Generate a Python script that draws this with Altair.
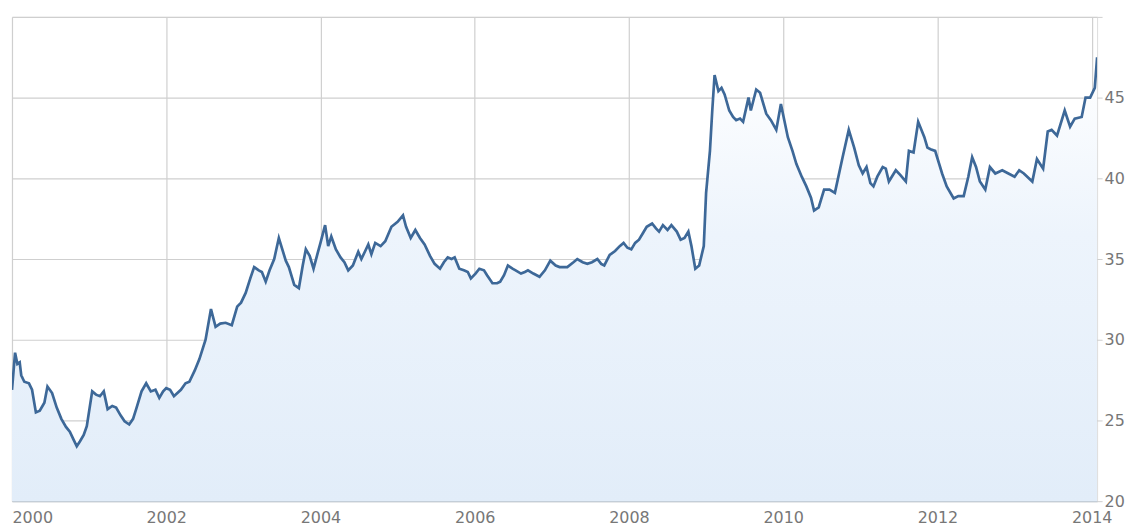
import altair as alt
import pandas as pd

years = [
    2000.00, 2000.04, 2000.07, 2000.10, 2000.12, 2000.16, 2000.22, 2000.26, 2000.31, 2000.36,
    2000.42, 2000.46, 2000.52, 2000.58, 2000.64, 2000.70, 2000.75, 2000.80, 2000.84, 2000.88,
    2000.93, 2000.97, 2001.04, 2001.09, 2001.14, 2001.19, 2001.24, 2001.30, 2001.35, 2001.41,
    2001.46, 2001.52, 2001.57, 2001.61, 2001.68, 2001.74, 2001.80, 2001.86, 2001.91, 2001.96,
    2002.00, 2002.05, 2002.10, 2002.19, 2002.25, 2002.30, 2002.37, 2002.43, 2002.51, 2002.58,
    2002.64, 2002.70, 2002.77, 2002.85, 2002.92, 2002.97, 2003.03, 2003.09, 2003.14, 2003.20,
    2003.24, 2003.29, 2003.34, 2003.40, 2003.46, 2003.55, 2003.59, 2003.66, 2003.72, 2003.77,
    2003.81, 2003.86, 2003.91, 2003.96, 2004.00, 2004.06, 2004.10, 2004.14, 2004.20, 2004.26,
    2004.31, 2004.36, 2004.42, 2004.49, 2004.53, 2004.58, 2004.62, 2004.66, 2004.71, 2004.78,
    2004.84, 2004.92, 2005.00, 2005.07, 2005.11, 2005.17, 2005.23, 2005.29, 2005.35, 2005.42,
    2005.48, 2005.55, 2005.60, 2005.65, 2005.70, 2005.74, 2005.80, 2005.86, 2005.91, 2005.95,
    2006.01, 2006.06, 2006.12, 2006.16, 2006.23, 2006.29, 2006.33, 2006.38, 2006.43, 2006.49,
    2006.53, 2006.60, 2006.65, 2006.69, 2006.76, 2006.84, 2006.91, 2006.98, 2007.05, 2007.10,
    2007.20, 2007.28, 2007.33, 2007.40, 2007.46, 2007.52, 2007.59, 2007.64, 2007.68, 2007.75,
    2007.82, 2007.88, 2007.93, 2007.98, 2008.03, 2008.08, 2008.13, 2008.18, 2008.23, 2008.30,
    2008.35, 2008.39, 2008.44, 2008.50, 2008.55, 2008.62, 2008.67, 2008.72, 2008.77, 2008.81,
    2008.86, 2008.91, 2008.97, 2009.00, 2009.05, 2009.08, 2009.11, 2009.16, 2009.20, 2009.24,
    2009.30, 2009.35, 2009.39, 2009.44, 2009.48, 2009.55, 2009.58, 2009.65, 2009.70, 2009.78,
    2009.84, 2009.91, 2009.97, 2010.06, 2010.12, 2010.17, 2010.24, 2010.30, 2010.36, 2010.40,
    2010.46, 2010.53, 2010.60, 2010.67, 2010.77, 2010.85, 2010.92, 2010.98, 2011.03, 2011.08,
    2011.13, 2011.17, 2011.22, 2011.29, 2011.33, 2011.37, 2011.46, 2011.52, 2011.59, 2011.63,
    2011.69, 2011.75, 2011.83, 2011.87, 2011.91, 2011.97, 2012.06, 2012.12, 2012.21, 2012.27,
    2012.34, 2012.40, 2012.45, 2012.50, 2012.55, 2012.62, 2012.68, 2012.75, 2012.84, 2012.92,
    2013.00, 2013.06, 2013.12, 2013.23, 2013.29, 2013.37, 2013.43, 2013.48, 2013.55, 2013.65,
    2013.72, 2013.78, 2013.87, 2013.92, 2013.98, 2014.04, 2014.07,
]

values = [
    26.9, 29.2, 28.5, 28.6, 27.8, 27.4, 27.3, 26.9, 25.5, 25.6,
    26.1, 27.1, 26.7, 25.8, 25.1, 24.6, 24.3, 23.8, 23.4, 23.7,
    24.1, 24.65, 26.8, 26.6, 26.5, 26.8, 25.7, 25.9, 25.8, 25.3,
    24.95, 24.75, 25.1, 25.7, 26.8, 27.3, 26.8, 26.9, 26.4, 26.8,
    27.0, 26.9, 26.5, 26.9, 27.3, 27.4, 28.1, 28.8, 30.0, 31.9,
    30.8, 31.0, 31.05, 30.9, 32.05, 32.3, 32.9, 33.8, 34.5, 34.3,
    34.2, 33.6, 34.3, 35.0, 36.3, 34.9, 34.5, 33.4, 33.2, 34.6,
    35.6, 35.2, 34.4, 35.3, 36.0, 37.1, 35.8, 36.4, 35.6, 35.1,
    34.8, 34.3, 34.6, 35.45, 35.0, 35.5, 35.9, 35.3, 36.0, 35.8,
    36.1, 37.0, 37.3, 37.7, 37.0, 36.3, 36.8, 36.3, 35.9, 35.2,
    34.7, 34.4, 34.8, 35.1, 35.0, 35.1, 34.4, 34.3, 34.2, 33.8,
    34.1, 34.4, 34.3, 34.0, 33.5, 33.5, 33.6, 34.0, 34.6, 34.4,
    34.3, 34.1, 34.2, 34.3, 34.1, 33.9, 34.3, 34.9, 34.6, 34.5,
    34.5, 34.8, 35.0, 34.8, 34.7, 34.8, 35.0, 34.7, 34.6, 35.25,
    35.5, 35.8, 36.0, 35.7, 35.6, 36.0, 36.2, 36.6, 37.0, 37.2,
    36.9, 36.7, 37.1, 36.8, 37.1, 36.7, 36.2, 36.3, 36.7, 35.8,
    34.4, 34.6, 35.8, 39.1, 41.7, 44.2, 46.4, 45.4, 45.6, 45.2,
    44.2, 43.8, 43.6, 43.7, 43.5, 45.0, 44.2, 45.5, 45.3, 44.0,
    43.6, 43.0, 44.6, 42.55, 41.7, 40.9, 40.1, 39.5, 38.8, 38.0,
    38.2, 39.3, 39.3, 39.1, 41.3, 43.0, 41.9, 40.8, 40.3, 40.7,
    39.7, 39.5, 40.1, 40.7, 40.6, 39.8, 40.5, 40.2, 39.8, 41.7,
    41.6, 43.5, 42.55, 41.9, 41.8, 41.7, 40.3, 39.5, 38.75, 38.9,
    38.9, 40.1, 41.3, 40.7, 39.8, 39.3, 40.7, 40.3, 40.5, 40.3,
    40.1, 40.5, 40.3, 39.8, 41.2, 40.6, 42.9, 43.0, 42.65, 44.2,
    43.2, 43.7, 43.8, 45.0, 45.0, 45.6, 47.5,
]

x_ticks = [2000, 2002, 2004, 2006, 2008, 2010, 2012, 2014]
y_ticks = [20, 25, 30, 35, 40, 45, 50]

df = pd.DataFrame({"year": years, "value": values})

grid_color = "#cfcfcf"
label_color = "#777777"
font = "DejaVu Sans"

x_enc = alt.X(
    "year:Q",
    scale=alt.Scale(domain=[2000, 2014.07], nice=False, zero=False),
    axis=alt.Axis(
        values=x_ticks, format="d", title=None, grid=True, gridColor=grid_color,
        gridWidth=1.2, domain=True, domainColor="#c0ccd8", ticks=False, labelPadding=8,
        labelFlush=True, labelColor=label_color, labelFontSize=16, labelFont=font,
    ),
)
y_enc = alt.Y(
    "value:Q",
    scale=alt.Scale(domain=[20, 50], nice=False, zero=False),
    axis=alt.Axis(
        values=y_ticks, orient="right", title=None, grid=True, gridColor=grid_color,
        gridWidth=1.2, domain=False, ticks=True, tickColor=grid_color, tickSize=5,
        labelPadding=2, labelExpr="datum.value == 50 ? '' : datum.label",
        labelColor=label_color, labelFontSize=16, labelFont=font, labelBaseline="middle",
    ),
)

gradient = alt.Gradient(
    gradient="linear",
    stops=[
        alt.GradientStop(color="#ffffff", offset=0),
        alt.GradientStop(color="#edf4fc", offset=0.4),
        alt.GradientStop(color="#e2edf9", offset=1),
    ],
    x1=1, x2=1, y1=0, y2=1,
)

area = alt.Chart(df).mark_area(color=gradient, clip=True).encode(
    x=x_enc, y=y_enc, y2=alt.datum(20)
)
line = alt.Chart(df).mark_line(color="#3d6898", strokeWidth=2.7, clip=True).encode(
    x="year:Q", y="value:Q"
)

chart = (
    alt.layer(area, line)
    .properties(
        width=1089, height=486,
        padding={"left": 4, "top": 8, "right": 30, "bottom": 24},
        autosize=alt.AutoSizeParams(type="none"),
    )
    .configure_view(stroke=None)
    .configure(background="white")
)

chart.save("out.html", embed_options={"renderer": "svg", "actions": False})
